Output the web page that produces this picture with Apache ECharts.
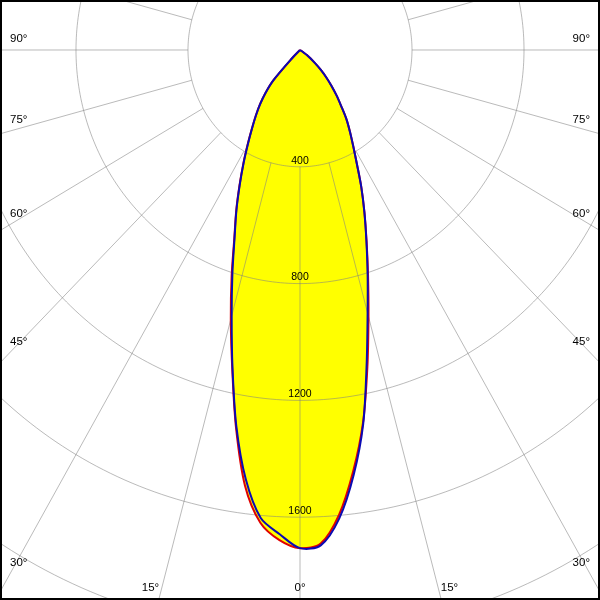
<!DOCTYPE html>
<html>
<head>
<meta charset="utf-8">
<script src="https://cdn.jsdelivr.net/npm/echarts@6/dist/echarts.min.js"></script>
<style>
html,body{margin:0;padding:0;background:#fff}
#wrap{position:relative;width:600px;height:600px}
#c{width:600px;height:600px}
#frame{position:absolute;left:0;top:0;width:600px;height:600px;box-sizing:border-box;border:2px solid #000;pointer-events:none}
</style>
</head>
<body>
<div id="wrap"><div id="c"></div><div id="frame"></div></div>
<script>
// Gamma angles (degrees from nadir) and luminous intensity (cd) per C-plane
const gammaAngles = [0,2.5,5,7.5,10,12.5,15,17.5,20,22.5,25,27.5,30,32.5,35,37.5,40,42.5,45,47.5,50,55,60,65,70,75,80,85,90];
const c0   = [1706,1698,1610,1468,1300,1100,933,803,693,601,518,440,380,332,289,241,203,166,133,101,70,30,0,0,0,0,0,0,0];
const c180 = [1706,1660,1609,1483,1309,1114,943,803,683,593,509,436,372,319,275,234,191,140,40,0,0,0,0,0,0,0,0,0,0];
const c90  = [1706,1692,1598,1455,1296,1112,945,808,695,601,518,440,380,332,289,241,203,166,133,101,70,30,0,0,0,0,0,0,0];
const c270 = [1706,1680,1625,1505,1315,1118,955,812,686,595,511,438,374,320,276,235,192,141,40,0,0,0,0,0,0,0,0,0,0];

// Grid
const ringValues = [400, 800, 1200, 1600, 2000];
const ringLabels = ['400', '800', '1200', '1600'];
const spokeStep = 15;
const angleTicks = [0, 15, 30, 45, 60, 75, 90];
const angleLabels = ['0°', '15°', '30°', '45°', '60°', '75°', '90°'];

const RAD = Math.PI / 180;
function toXY(rightVals, leftVals) {
  const pts = [];
  const push = (v, g, s) => {
    const p = [s * v * Math.sin(g * RAD), v * Math.cos(g * RAD)];
    const last = pts[pts.length - 1];
    if (v === 0 && last && last[0] === 0 && last[1] === 0) return;
    if (v === 0) { pts.push([0, 0]); return; }
    pts.push(p);
  };
  for (let i = gammaAngles.length - 1; i >= 0; i--) push(rightVals[i], gammaAngles[i], 1);
  for (let i = 1; i < gammaAngles.length; i++) push(leftVals[i], gammaAngles[i], -1);
  return pts;
}
const bluePts = toXY(c0, c180);
const redPts = toXY(c90, c270);

const FONT = '"Liberation Sans", Arial, sans-serif';
const gridColor = 'rgba(130,130,130,0.55)';
const SMOOTH = 0.3;

const chart = echarts.init(document.getElementById('c'), null, {renderer: 'canvas'});

function renderFill(params, api) {
  return {
    type: 'group',
    children: [redPts, bluePts].map(p => ({
      type: 'polygon',
      shape: {points: p.map(q => api.coord(q)), smooth: SMOOTH},
      style: {fill: '#ffff00', stroke: null}
    }))
  };
}

function renderOutline(pts, color) {
  return function (params, api) {
    return {
      type: 'polyline',
      shape: {points: pts.map(q => api.coord(q)), smooth: SMOOTH},
      style: {stroke: color, lineWidth: 2, fill: null, lineJoin: 'round'}
    };
  };
}

function renderGrid(params, api) {
  const children = [];
  const W = api.getWidth(), H = api.getHeight();
  const c = api.coord([0, 0]);
  ringValues.forEach(v => {
    const pts = [];
    for (let a = 0; a <= 360; a += 1) {
      pts.push(api.coord([v * Math.sin(a * RAD), v * Math.cos(a * RAD)]));
    }
    children.push({type: 'polyline', shape: {points: pts}, style: {stroke: gridColor, lineWidth: 1, fill: null}});
  });
  const r0 = ringValues[0], r1 = 4000;
  for (let a = 0; a < 360; a += spokeStep) {
    const p0 = api.coord([r0 * Math.sin(a * RAD), r0 * Math.cos(a * RAD)]);
    const p1 = api.coord([r1 * Math.sin(a * RAD), r1 * Math.cos(a * RAD)]);
    children.push({type: 'line', shape: {x1: p0[0], y1: p0[1], x2: p1[0], y2: p1[1]}, style: {stroke: gridColor, lineWidth: 1}});
  }
  ringLabels.forEach((t, i) => {
    const p = api.coord([0, ringValues[i]]);
    children.push({type: 'text', x: p[0], y: p[1] - 6, style: {text: t, fill: '#000', font: '10.5px ' + FONT, align: 'center', verticalAlign: 'middle'}});
  });
  angleTicks.forEach((g, i) => {
    const sides = g === 0 ? [0] : [-1, 1];
    sides.forEach(s => {
      if (g === 0) {
        children.push({type: 'text', x: c[0], y: H - 12, style: {text: angleLabels[i], fill: '#000', font: '11.5px ' + FONT, align: 'center', verticalAlign: 'middle'}});
        return;
      }
      const q = api.coord([s * 1000 * Math.sin(g * RAD), 1000 * Math.cos(g * RAD)]);
      const dx = q[0] - c[0], dy = q[1] - c[1];
      const xe = s < 0 ? 10 : W - 10;
      const ye = c[1] + (xe - c[0]) / dx * dy;
      if (ye <= H - 20) {
        children.push({type: 'text', x: xe, y: ye - 11, style: {text: angleLabels[i], fill: '#000', font: '11.5px ' + FONT, align: s < 0 ? 'left' : 'right', verticalAlign: 'middle'}});
      } else {
        const xb = c[0] + (H - 2 - c[1]) / dy * dx;
        children.push({type: 'text', x: xb, y: H - 12, style: {text: angleLabels[i], fill: '#000', font: '11.5px ' + FONT, align: s < 0 ? 'right' : 'left', verticalAlign: 'middle'}});
      }
    });
  });
  return {type: 'group', children: children};
}

chart.setOption({
  animation: false,
  backgroundColor: '#ffffff',
  grid: {left: 0, right: 0, top: 0, bottom: 0},
  xAxis: {type: 'value', min: -1071.4, max: 1071.4, show: false},
  yAxis: {type: 'value', inverse: true, min: -171.2, max: 1883.6, show: false},
  series: [
    {type: 'custom', name: 'fill', coordinateSystem: 'cartesian2d', data: [[0, 0]], renderItem: renderFill, z: 1, silent: true},
    {type: 'custom', name: 'grid', coordinateSystem: 'cartesian2d', data: [[0, 0]], renderItem: renderGrid, z: 2, silent: true},
    {type: 'custom', name: 'C90-C270', coordinateSystem: 'cartesian2d', data: [[0, 0]], renderItem: renderOutline(redPts, '#e00000'), z: 3, silent: true},
    {type: 'custom', name: 'C0-C180', coordinateSystem: 'cartesian2d', data: [[0, 0]], renderItem: renderOutline(bluePts, '#0a0ab4'), z: 4, silent: true}
  ]
});
</script>
</body>
</html>
